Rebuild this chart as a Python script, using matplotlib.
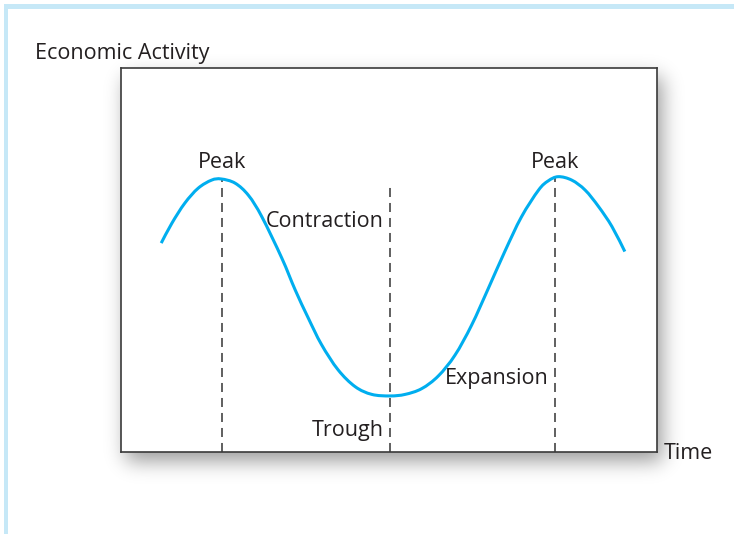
import math
import numpy as np
import matplotlib
matplotlib.use("Agg")
import matplotlib.pyplot as plt
from matplotlib.patches import Rectangle, PathPatch
from matplotlib.path import Path

plt.rcParams['font.family'] = ['Open Sans', 'DejaVu Sans']
plt.rcParams['lines.scale_dashes'] = False

# curve (time, economic activity), axes run 0..10 both ways
time = [0.75, 0.95, 1.19, 1.44, 1.69, 1.87, 2.13, 2.38, 2.63, 3.00, 3.25,
        3.49, 3.74, 4.05, 4.37, 4.68, 5.02, 5.30, 5.61, 5.92, 6.23, 6.54, 6.85,
        7.16, 7.47, 7.79, 7.97, 8.16, 8.41, 8.66, 8.91, 9.16, 9.40]
activity = [5.44, 5.96, 6.48, 6.87, 7.08, 7.11, 7.00, 6.68, 6.12, 5.05, 4.22,
            3.50, 2.80, 2.14, 1.70, 1.50, 1.46, 1.50, 1.65, 1.98, 2.52, 3.30, 4.25,
            5.22, 6.12, 6.82, 7.06, 7.17, 7.08, 6.82, 6.39, 5.87, 5.22]

turning_times = [1.88, 5.02, 8.10]
turning_tops = [7.11, 7.00, 7.16]

ink = '#231f20'
curve_col = '#00aeef'
W, H = 734, 534
box = (121, 68, 657, 452)  # left, top, right, bottom in pixels


def smooth_path(x, y):
    # cubic bezier through the points (catmull-rom tangents)
    pts = np.column_stack([x, y])
    verts = [pts[0]]
    codes = [Path.MOVETO]
    n = len(pts)
    for i in range(n - 1):
        p0 = pts[max(i - 1, 0)]
        p1 = pts[i]
        p2 = pts[i + 1]
        p3 = pts[min(i + 2, n - 1)]
        c1 = p1 + (p2 - p0) / 6.0
        c2 = p2 - (p3 - p1) / 6.0
        verts += [c1, c2, p2]
        codes += [Path.CURVE4] * 3
    return Path(verts, codes)


fig = plt.figure(figsize=(W / 100, H / 100), dpi=100)

# background layer: page frame and soft drop shadow under the chart box
bg = fig.add_axes([0, 0, 1, 1])
bg.set_xlim(0, W)
bg.set_ylim(H, 0)
bg.axis('off')

erf = np.vectorize(math.erf)
s = 10.0 * math.sqrt(2)
dx, dy = 5, 9
xs = np.arange(W) + 0.5
ys = np.arange(H) + 0.5
fx = 0.5 * (erf((xs - box[0] - dx) / s) - erf((xs - box[2] - dx) / s))
fy = 0.5 * (erf((ys - box[1] - dy) / s) - erf((ys - box[3] - dy) / s))
shade = np.zeros((H, W, 4))
shade[..., 3] = 0.40 * np.outer(fy, fx)
bg.imshow(shade, extent=(0, W, H, 0), interpolation='bilinear', aspect='auto')

frame_col = '#c6e8f7'
bg.add_patch(Rectangle((4, 4), W - 4, 4.5, color=frame_col, lw=0))
bg.add_patch(Rectangle((3.5, 4), 4.5, H - 4, color=frame_col, lw=0))

ax = fig.add_axes([box[0] / W, 1 - box[3] / H, (box[2] - box[0]) / W, (box[3] - box[1]) / H])
ax.set_facecolor('white')
ax.set_xlim(0, 10)
ax.set_ylim(0, 10)
ax.set_xticks([])
ax.set_yticks([])
for sp in ax.spines.values():
    sp.set_color('#3a3a3a')
    sp.set_linewidth(1.2)

ax.add_patch(PathPatch(smooth_path(time, activity), facecolor='none', edgecolor=curve_col,
                       lw=2.2, capstyle='butt', zorder=3))

for t, top in zip(turning_times, turning_tops):
    ax.vlines(t, 0, top, colors='#444444', linewidth=1.2, linestyles=(0, (6.5, 4.3)), zorder=2)

fs = 15.5
ax.text(turning_times[0], 7.40, 'Peak', ha='center', va='baseline', fontsize=fs, color=ink)
ax.text(turning_times[2], 7.40, 'Peak', ha='center', va='baseline', fontsize=fs, color=ink)
ax.text(4.90, 5.86, 'Contraction', ha='right', va='baseline', fontsize=fs, color=ink)
ax.text(4.90, 0.42, 'Trough', ha='right', va='baseline', fontsize=fs, color=ink)
ax.text(7.97, 1.77, 'Expansion', ha='right', va='baseline', fontsize=fs, color=ink)
ax.text(10.13, -0.18, 'Time', ha='left', va='baseline', fontsize=fs, color=ink, clip_on=False)
ax.text(-1.60, 10.23, 'Economic Activity', ha='left', va='baseline', fontsize=fs,
        color=ink, clip_on=False)

fig.savefig('out.png', dpi=100)
